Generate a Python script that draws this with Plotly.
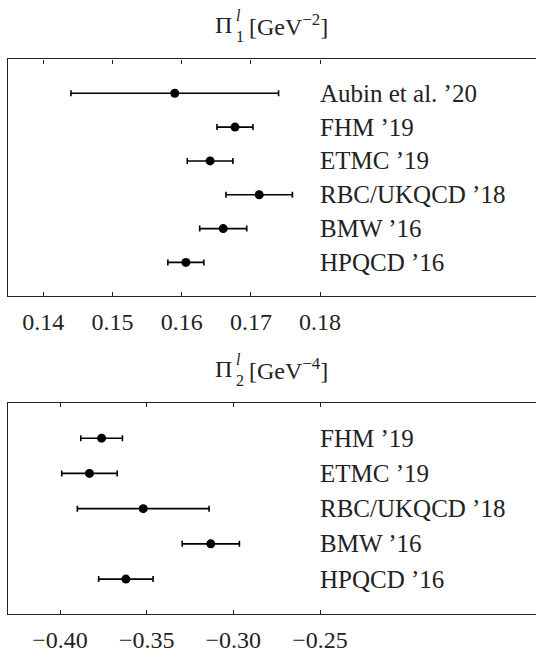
import plotly.graph_objects as go

# Lattice results, listed top to bottom as drawn
pi1_labels = ["Aubin et al. ’20", "FHM ’19", "ETMC ’19", "RBC/UKQCD ’18", "BMW ’16", "HPQCD ’16"]
pi1_values = [0.1590, 0.1677, 0.1641, 0.1712, 0.1660, 0.1606]
pi1_errors = [0.0150, 0.0026, 0.0033, 0.0048, 0.0034, 0.0026]
pi1_ticks = [0.14, 0.15, 0.16, 0.17, 0.18]

pi2_labels = ["FHM ’19", "ETMC ’19", "RBC/UKQCD ’18", "BMW ’16", "HPQCD ’16"]
pi2_values = [-0.376, -0.383, -0.352, -0.313, -0.362]
pi2_errors = [0.012, 0.016, 0.038, 0.0165, 0.0157]
pi2_ticks = [-0.40, -0.35, -0.30, -0.25]

W, H = 536, 653
FONT = "'Liberation Serif', 'DejaVu Serif', serif"
INK = "#222222"


def px_x(x):
    return x / W


def px_y(y):
    return 1 - y / H


fig = go.Figure()

panels = [
    dict(labels=pi1_labels, values=pi1_values, errors=pi1_errors, ticks=pi1_ticks,
         xa="x", ya="y", rng=[0.1349, 0.2112], dom=[px_y(299), px_y(60)],
         fmt=".2f", label_x=0.18),
    dict(labels=pi2_labels, values=pi2_values, errors=pi2_errors, ticks=pi2_ticks,
         xa="x2", ya="y2", rng=[-0.430, -0.1254], dom=[px_y(620), px_y(406.7)],
         fmt=".2f", label_x=-0.25),
]

annotations = []
for i, p in enumerate(panels):
    n = len(p["labels"])
    ypos = list(range(n - 1, -1, -1))
    fig.add_trace(go.Scatter(
        x=p["values"], y=ypos, mode="markers",
        marker=dict(color="black", size=9),
        error_x=dict(type="data", array=p["errors"], color="black",
                     thickness=1.6, width=3),
        xaxis=p["xa"], yaxis=p["ya"], showlegend=False, hoverinfo="skip",
    ))
    for lab, yy in zip(p["labels"], ypos):
        annotations.append(dict(
            x=p["label_x"], y=yy, xref=p["xa"], yref=p["ya"], text=lab,
            showarrow=False, xanchor="left", yanchor="middle",
            font=dict(family=FONT, size=25, color=INK), xshift=-2,
        ))
    suffix = "" if i == 0 else "2"
    axis_common = dict(
        domain=[px_x(8), 1.0], range=p["rng"], tickvals=p["ticks"],
        tickformat=p["fmt"], ticks="inside", ticklen=4, tickwidth=1.2,
        tickcolor=INK, showline=True, linecolor=INK, linewidth=1.4,
        mirror="ticks", showgrid=False, zeroline=False,
        tickfont=dict(family=FONT, size=24, color=INK),
        ticklabelstandoff=4,
        anchor="y" + suffix,
    )
    fig.update_layout(**{"xaxis" + suffix: axis_common})
    fig.update_layout(**{"yaxis" + suffix: dict(
        domain=p["dom"], range=[-1, n], showticklabels=False, ticks="",
        showline=True, linecolor=INK, linewidth=1.4, mirror=False,
        showgrid=False, zeroline=False, anchor="x" + suffix,
    )})

# Panel titles: Pi with a stacked superscript l over the subscript index
for cy, idx, power in [(25, "1", "2"), (372, "2", "4")]:
    annotations.append(dict(
        x=px_x(234), y=px_y(cy), xref="paper", yref="paper", text="Π",
        showarrow=False, xanchor="right", yanchor="middle",
        font=dict(family=FONT, size=24, color=INK),
    ))
    annotations.append(dict(
        x=px_x(234), y=px_y(cy + 1), xref="paper", yref="paper",
        text="<i>l</i><br>" + idx, align="left",
        showarrow=False, xanchor="left", yanchor="middle",
        font=dict(family=FONT, size=16, color=INK),
    ))
    annotations.append(dict(
        x=px_x(247), y=px_y(cy), xref="paper", yref="paper",
        text="[GeV<sup>−" + power + "</sup>]",
        showarrow=False, xanchor="left", yanchor="middle",
        font=dict(family=FONT, size=24, color=INK),
    ))

fig.update_layout(
    width=W, height=H, margin=dict(l=0, r=0, t=0, b=0),
    paper_bgcolor="white", plot_bgcolor="white",
    annotations=annotations,
)

fig.write_html("out.html")
